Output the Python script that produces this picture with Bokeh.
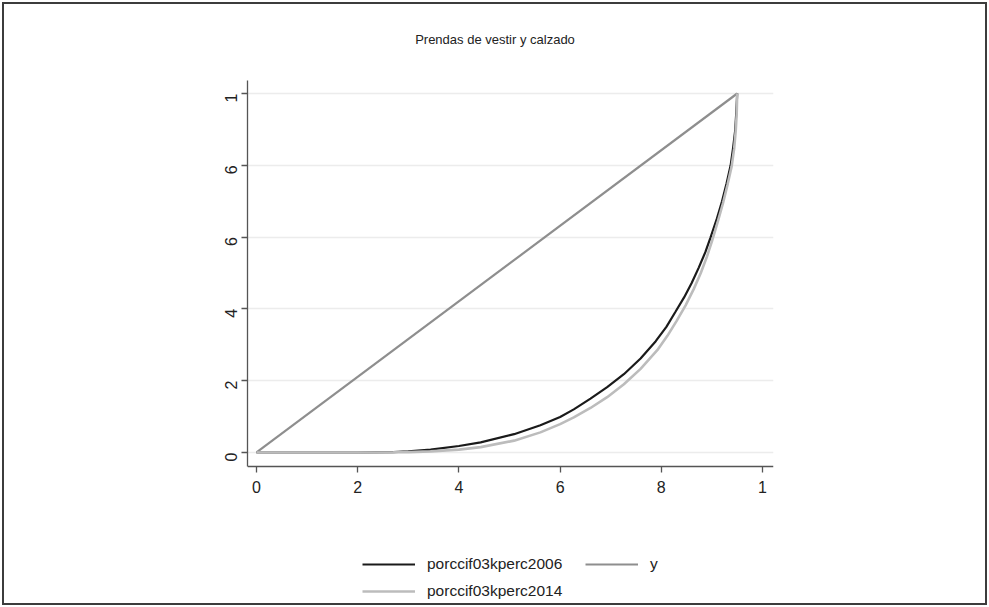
import math
from bokeh.plotting import figure
from bokeh.models import (Range1d, FixedTicker, Legend, LegendItem, Label, LinearAxis)
from bokeh.embed import file_html
from bokeh.resources import INLINE

# Lorenz curves: cumulative population share vs cumulative expenditure share
x_2006 = [0, 0.10, 0.20, 0.27, 0.30, 0.344, 0.40, 0.443, 0.509, 0.561, 0.600,
          0.627, 0.660, 0.693, 0.726, 0.759, 0.789, 0.810, 0.828, 0.845, 0.860,
          0.874, 0.887, 0.897, 0.910, 0.920, 0.929, 0.937, 0.942, 0.946, 0.948,
          0.950]
y_2006 = [0, 0, 0, 0.001, 0.003, 0.008, 0.018, 0.028, 0.051, 0.076, 0.099,
          0.120, 0.150, 0.182, 0.218, 0.262, 0.310, 0.350, 0.392, 0.432, 0.472,
          0.515, 0.558, 0.598, 0.652, 0.700, 0.750, 0.800, 0.850, 0.897, 0.944,
          1.0]

x_2014 = [0, 0.10, 0.20, 0.27, 0.30, 0.344, 0.40, 0.443, 0.509, 0.561, 0.600,
          0.627, 0.660, 0.693, 0.726, 0.759, 0.792, 0.812, 0.830, 0.848, 0.864,
          0.878, 0.890, 0.900, 0.912, 0.922, 0.931, 0.939, 0.944, 0.947, 0.949,
          0.950]
y_2014 = [0, 0, 0, 0.0005, 0.001, 0.003, 0.008, 0.015, 0.033, 0.056, 0.079,
          0.098, 0.124, 0.154, 0.190, 0.233, 0.285, 0.325, 0.366, 0.410, 0.455,
          0.500, 0.545, 0.588, 0.645, 0.695, 0.747, 0.797, 0.847, 0.895, 0.944,
          1.0]

# line of equality
x_eq = [0, 0.95]
y_eq = [0, 1.0]

tick_values = [0, 0.2, 0.4, 0.6, 0.8, 1.0]
x_tick_labels = ["0", "2", "4", "6", "8", "1"]
y_tick_labels = ["0", "2", "4", "6", "6", "1"]

FONT = "Liberation Sans"
INK = "#222222"
AXIS = "#555555"

# The frame spans the full height of the canvas, so the legend and the title
# can sit inside it; the axes are drawn at fixed positions inside the frame.
X_LO, X_HI = -0.0178, 1.0217          # horizontal extent of the plot region
Y_AXIS_LO, Y_AXIS_HI = -0.039, 1.036  # vertical extent of the plot region
Y_LO, Y_HI = -0.4318, 1.2479          # frame extent incl. title and legend space

p = figure(width=985, height=603, output_backend="svg", toolbar_location=None,
           x_range=Range1d(X_LO, X_HI), y_range=Range1d(Y_LO, Y_HI),
           x_axis_location=None,
           min_border_left=243, min_border_right=216,
           min_border_top=0, min_border_bottom=0,
           background_fill_color="white", border_fill_color="white",
           outline_line_color=None)
p.styles = {"border": "2px solid #3c3c3c", "margin": "2px"}

xaxis = LinearAxis(fixed_location=Y_AXIS_LO, bounds=(X_LO, X_HI))
p.add_layout(xaxis, "below")
yaxis = p.yaxis[0]
yaxis.bounds = (Y_AXIS_LO, Y_AXIS_HI)

for ax in (xaxis, yaxis):
    ax.ticker = FixedTicker(ticks=tick_values)
    ax.axis_line_color = AXIS
    ax.axis_line_width = 1.3
    ax.major_tick_line_color = AXIS
    ax.major_tick_line_width = 1.3
    ax.major_tick_out = 6
    ax.major_tick_in = 0
    ax.minor_tick_line_color = None
    ax.major_label_text_font = FONT
    ax.major_label_text_font_size = "16px"
    ax.major_label_text_color = INK

xaxis.major_label_overrides = {v: s for v, s in zip(tick_values, x_tick_labels)}
yaxis.major_label_overrides = {v: s for v, s in zip(tick_values, y_tick_labels)}
yaxis.major_label_orientation = math.pi / 2
xaxis.major_label_standoff = 9
yaxis.major_label_standoff = 10

p.xgrid.grid_line_color = None
p.ygrid.ticker = FixedTicker(ticks=tick_values)
p.ygrid.grid_line_color = "#ececec"
p.ygrid.grid_line_width = 1.5

r06 = p.line(x_2006, y_2006, line_color="#1a1a1a", line_width=2.2)
req = p.line(x_eq, y_eq, line_color="#8e8e8e", line_width=2.2)
r14 = p.line(x_2014, y_2014, line_color="#bcbcbc", line_width=2.6)

# title, centred on the whole graph
title = Label(x=0.4713, y=1.1504, text="Prendas de vestir y calzado",
              text_align="center", text_baseline="middle",
              text_font=FONT, text_font_size="13px", text_color=INK)
p.add_layout(title)

legend = Legend(items=[LegendItem(label="porccif03kperc2006", renderers=[r06]),
                       LegendItem(label="porccif03kperc2014", renderers=[r14]),
                       LegendItem(label="y", renderers=[req])],
                ncols=2, location=(115, 6),
                glyph_width=53, glyph_height=20, label_standoff=12,
                label_width=151, label_height=20, spacing=7, padding=1,
                label_text_font=FONT, label_text_font_size="15.5px",
                label_text_color=INK,
                border_line_color=None, background_fill_alpha=0)
p.add_layout(legend)

open("out.html", "w").write(file_html(p, INLINE))
